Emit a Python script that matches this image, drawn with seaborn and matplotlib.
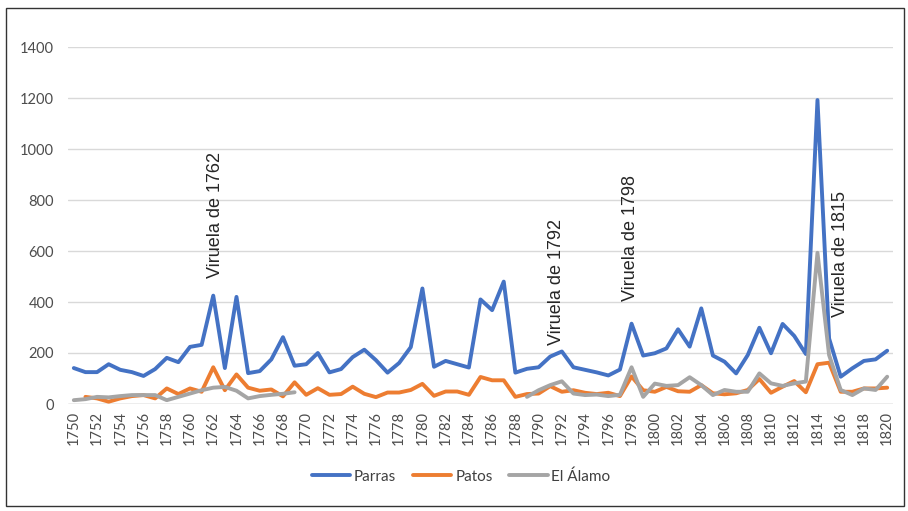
import numpy as np
import pandas as pd
import seaborn as sns
import matplotlib.pyplot as plt
from matplotlib.patches import Rectangle

nan = np.nan
years = list(range(1750, 1821))

parras = [141, 125, 125, 156, 134, 125, 110, 137, 181, 164,
          224, 232, 425, 141, 420, 121, 129, 175, 262, 150,
          156, 200, 124, 137, 184, 213, 172, 123, 161, 223,
          453, 146, 169, 156, 143, 410, 368, 480, 123, 138,
          144, 186, 206, 144, 134, 124, 112, 135, 315, 190,
          199, 218, 293, 225, 375, 190, 166, 120, 192, 299,
          199, 314, 267, 196, 1192, 257, 107, 140, 169, 175,
          209]
patos = [nan, 28, 22, 9, 22, 31, 35, 22, 61, 39,
         61, 48, 144, 54, 116, 64, 52, 57, 30, 85,
         36, 62, 36, 39, 68, 40, 27, 45, 45, 55,
         79, 32, 49, 49, 36, 106, 93, 93, 28, 39,
         41, 70, 48, 54, 44, 39, 44, 31, 108, 54,
         48, 67, 50, 48, 74, 42, 38, 42, 55, 98,
         44, 68, 90, 46, 156, 162, 48, 48, 61, 61,
         64]
alamo = [15, 19, 28, 26, 31, 35, 35, 35, 15, 28,
         41, 54, 64, 67, 52, 22, 31, 36, 40, 46,
         nan, nan, nan, nan, nan, nan, nan, nan, nan, nan,
         nan, nan, nan, nan, nan, nan, nan, nan, nan, 28,
         54, 74, 89, 41, 35, 37, 31, 36, 144, 28,
         80, 71, 74, 105, 74, 35, 55, 48, 48, 120,
         81, 71, 81, 88, 593, 192, 55, 35, 61, 55,
         107]

series = {"Parras": parras, "Patos": patos, "El Álamo": alamo}
colores = {"Parras": "#4472C4", "Patos": "#ED7D31", "El Álamo": "#A5A5A5"}

notas = [("Viruela de 1762", 1762.2, 494),
         ("Viruela de 1792", 1791.5, 231),
         ("Viruela de 1798", 1797.9, 402),
         ("Viruela de 1815", 1816.0, 343)]

# formato largo; 'tramo' corta la linea donde faltan datos
partes = []
for nombre, vals in series.items():
    d = pd.DataFrame({"anio": years, "valor": vals, "serie": nombre})
    d["tramo"] = d["valor"].isna().cumsum()
    partes.append(d.dropna())
df = pd.concat(partes, ignore_index=True)

sns.set_style("white")
plt.rcParams["font.family"] = ["Lato", "DejaVu Sans"]

fig = plt.figure(figsize=(9.08, 5.11), dpi=100)
ax = fig.add_axes([68 / 908, 1 - 404 / 511, 825 / 908, 357 / 511])

sns.lineplot(data=df, x="anio", y="valor", hue="serie", units="tramo",
             estimator=None, palette=colores, linewidth=2.8, ax=ax,
             hue_order=list(series.keys()))

ax.set_xlim(1749.5, 1820.5)
ax.set_ylim(0, 1400)
ax.set_xticks(years[::2])
ax.set_xticklabels([str(y) for y in years[::2]], rotation=90)
ax.set_yticks(range(0, 1401, 200))
ax.tick_params(axis="y", length=0, labelsize=10.5, colors="#4d4d4d", pad=10)
ax.tick_params(axis="x", length=0, labelsize=10.5, colors="#4d4d4d", pad=5)
ax.grid(axis="y", color="#D9D9D9", linewidth=1)
ax.set_axisbelow(True)
for s in ax.spines.values():
    s.set_visible(False)
ax.axhline(0, color="#BFBFBF", linewidth=1, zorder=0)
ax.set_xlabel("")
ax.set_ylabel("")

for texto, x, y in notas:
    ax.text(x, y, texto, rotation=90, ha="center", va="bottom",
            fontsize=13, family=["Liberation Sans", "DejaVu Sans"])

h, l = ax.get_legend_handles_labels()
for hh in h:
    hh.set_linewidth(2.8)
ax.get_legend().remove()
fig.legend(h, l, loc="center", bbox_to_anchor=(0.508, 0.068), ncol=3,
           frameon=False, fontsize=11, handlelength=2.5, columnspacing=1.1,
           handletextpad=0.25, labelcolor="#404040")

fig.patches.append(Rectangle((6 / 908, 5 / 511), 898 / 908, 498 / 511,
                             transform=fig.transFigure, fill=False,
                             edgecolor="#333333", linewidth=1))

fig.savefig("out.png", dpi=100)
